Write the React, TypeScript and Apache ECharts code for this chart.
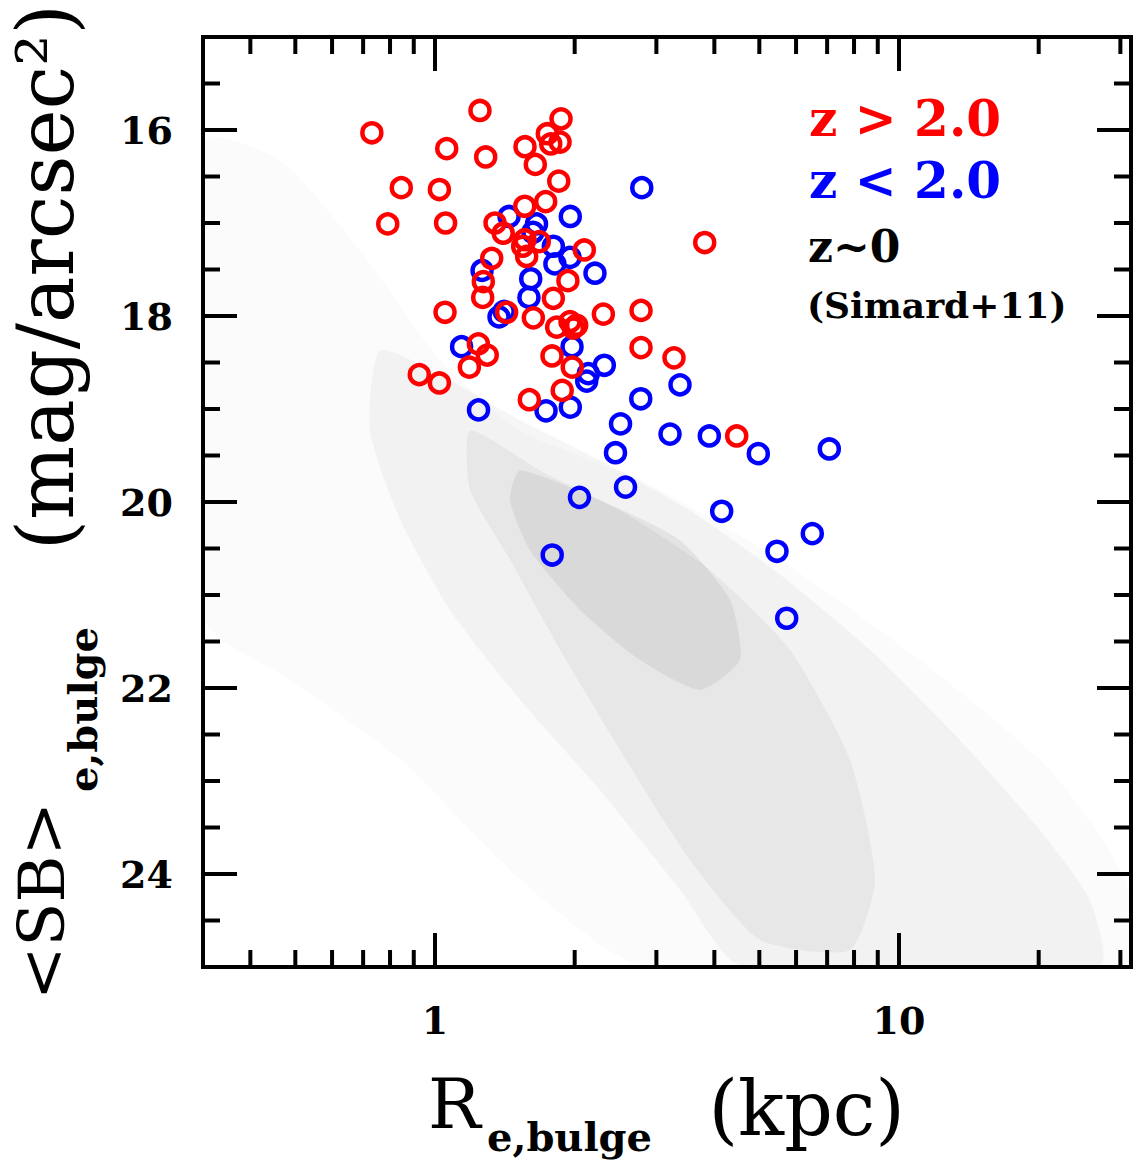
import React, { useEffect, useRef } from "react";
import * as echarts from "echarts";

// z > 2.0 galaxies: [R_e,bulge (kpc), <SB>_e,bulge (mag/arcsec^2)]
const highZ: number[][] = [
  [0.731, 16.03], [1.25, 15.79], [1.06, 16.2], [1.286, 16.29], [1.563, 16.18],
  [1.746, 16.04], [1.869, 15.88], [1.86, 16.13], [1.776, 16.15], [1.645, 16.37],
  [1.848, 16.55], [0.846, 16.62], [1.022, 16.64], [1.732, 16.77], [1.561, 16.82],
  [0.791, 17.01], [1.054, 17.0], [1.347, 17.0], [1.403, 17.11], [1.563, 17.18],
  [1.678, 17.2], [1.545, 17.25], [1.576, 17.36], [2.098, 17.29], [3.813, 17.21],
  [1.325, 17.38], [1.934, 17.62], [1.271, 17.63], [1.267, 17.8], [1.799, 17.81],
  [1.051, 17.96], [1.427, 17.96], [1.629, 18.02], [1.829, 18.12], [1.987, 18.13],
  [2.02, 18.1], [1.954, 18.06], [2.306, 17.98], [2.78, 17.94], [2.78, 18.34],
  [3.274, 18.45], [1.24, 18.3], [1.296, 18.42], [1.186, 18.55], [1.787, 18.43],
  [1.976, 18.55], [0.925, 18.63], [1.022, 18.72], [1.88, 18.8], [1.597, 18.9],
  [4.469, 19.29],
];

// z < 2.0 galaxies
const lowZ: number[][] = [
  [2.79, 16.62], [1.444, 16.93], [1.957, 16.93], [1.655, 17.01], [1.626, 17.1],
  [1.799, 17.25], [1.954, 17.37], [1.813, 17.44], [2.212, 17.54], [1.263, 17.51],
  [1.608, 17.6], [1.594, 17.8], [1.409, 17.95], [1.374, 18.01], [1.974, 18.33],
  [1.141, 18.33], [2.317, 18.53], [2.14, 18.62], [2.123, 18.7], [3.373, 18.74],
  [2.776, 18.89], [1.241, 19.01], [1.735, 19.02], [1.957, 18.98], [2.511, 19.16],
  [3.21, 19.27], [3.901, 19.29], [4.975, 19.48], [7.076, 19.43], [2.449, 19.47],
  [2.574, 19.84], [2.048, 19.95], [4.148, 20.1], [6.503, 20.34], [5.458, 20.53],
  [1.789, 20.57], [5.728, 21.25],
];

// z~0 (Simard+11) local sample, summarised as nested density outlines
const localHalo: number[][] = [
  [0.319, 16.11], [0.463, 16.32], [0.689, 17.29], [1.025, 18.47], [1.525, 19.23],
  [2.766, 19.76], [5.54, 20.62], [11.1, 21.7], [21.2, 22.88], [30.7, 24.06],
  [30.7, 24.98], [2.766, 24.98], [1.525, 24.06], [0.841, 22.77], [0.487, 21.91],
  [0.319, 21.27],
];
const localBand: number[][] = [
  [0.761, 18.37], [1.077, 18.69], [1.525, 19.12], [2.268, 19.55], [3.544, 20.09],
  [5.54, 20.78], [8.66, 21.59], [13.53, 22.56], [20.13, 23.53], [25.8, 24.28],
  [27.1, 24.98], [4.543, 24.98], [3.373, 24.17], [2.268, 23.1], [1.525, 22.13],
  [1.077, 21.16], [0.841, 20.19], [0.724, 19.23],
];
const localInner: number[][] = [
  [1.19, 19.23], [1.684, 19.66], [2.505, 20.09], [3.914, 20.73], [5.82, 21.59],
  [7.84, 22.77], [8.88, 24.06], [7.84, 24.82], [5.02, 24.71], [3.544, 23.85],
  [2.505, 22.67], [1.86, 21.59], [1.451, 20.62], [1.19, 19.87],
];
const localCore: number[][] = [
  [1.525, 19.66], [2.268, 19.98], [3.373, 20.41], [4.323, 21.05], [4.543, 21.7],
  [3.725, 22.02], [2.766, 21.7], [2.053, 21.16], [1.602, 20.52], [1.451, 19.98],
];

const xMajorTicks = [1, 10];
const xMinorTicks = [0.4, 0.5, 0.6, 0.7, 0.8, 0.9, 2, 3, 4, 5, 6, 7, 8, 9, 20, 30];
const yMajorTicks = [16, 18, 20, 22, 24];
const yMinorTicks = [15.5, 16.5, 17, 17.5, 18.5, 19, 19.5, 20.5, 21, 21.5, 22.5, 23, 23.5, 24.5];

const cloudLayers = [localHalo, localBand, localInner, localCore];
const cloudAlpha = [0.015, 0.035, 0.045, 0.06];

const SERIF = '"DejaVu Serif", serif';

export default function App() {
  const ref = useRef<HTMLDivElement>(null);
  useEffect(() => {
    if (!ref.current) return;
    const chart = echarts.init(ref.current, null, { renderer: "svg" });
    const tickColor = "#000";
    const option: any = {
      animation: false,
      backgroundColor: "#fff",
      grid: {
        left: 203, top: 37, width: 928, height: 930,
        show: true, borderColor: "#000", borderWidth: 4, backgroundColor: "transparent",
      },
      xAxis: {
        type: "log", logBase: 10, min: Math.pow(10, -0.5), max: Math.pow(10, 1.5),
        axisLine: { show: false }, axisTick: { show: false }, splitLine: { show: false },
        axisLabel: {
          showMinLabel: false, showMaxLabel: false, margin: 34,
          color: "#000", fontFamily: SERIF, fontWeight: "bold", fontSize: 38,
          formatter: (v: number) => {
            const l = Math.log10(v);
            const r = Math.round(l);
            return Math.abs(l - r) < 1e-6 && (r === 0 || r === 1) ? String(Math.round(v)) : "";
          },
        },
      },
      yAxis: {
        type: "value", inverse: true, min: 15, max: 25, interval: 1,
        axisLine: { show: false }, axisTick: { show: false }, splitLine: { show: false },
        axisLabel: {
          margin: 30, color: "#000", fontFamily: SERIF, fontWeight: "bold", fontSize: 38,
          formatter: (v: number) => (v % 2 === 0 ? String(v) : ""),
        },
      },
      series: [
        {
          type: "custom", silent: true, z: 1, clip: true,
          data: cloudLayers.map((pts, i) => [pts[0][0], pts[0][1], i]),
          renderItem: (params: any, api: any) => {
            const idx = api.value(2);
            const pts = cloudLayers[idx].map((p) => api.coord(p));
            return {
              type: "polygon",
              shape: { points: pts, smooth: 0.2 },
              style: { fill: `rgba(0,0,0,${cloudAlpha[idx]})`, stroke: null },
            };
          },
        },
        {
          type: "scatter", z: 3, symbol: "circle", symbolSize: 19, data: lowZ,
          itemStyle: { color: "rgba(0,0,0,0)", borderColor: "#0000ff", borderWidth: 4.5, opacity: 1 },
        },
        {
          type: "scatter", z: 4, symbol: "circle", symbolSize: 19, data: highZ,
          itemStyle: { color: "rgba(0,0,0,0)", borderColor: "#ff0000", borderWidth: 4.5, opacity: 1 },
        },
        {
          type: "custom", silent: true, z: 6, clip: false,
          data: [...xMajorTicks.map((v) => [v, 20, 1]), ...xMinorTicks.map((v) => [v, 20, 0])],
          renderItem: (params: any, api: any) => {
            const cs = params.coordSys;
            const px = api.coord([api.value(0), 20])[0];
            const len = api.value(2) ? 34 : 17;
            const b = cs.y + cs.height;
            return {
              type: "group",
              children: [
                { type: "line", shape: { x1: px, y1: b, x2: px, y2: b - len }, style: { stroke: tickColor, lineWidth: 4 } },
                { type: "line", shape: { x1: px, y1: cs.y, x2: px, y2: cs.y + len }, style: { stroke: tickColor, lineWidth: 4 } },
              ],
            };
          },
        },
        {
          type: "custom", silent: true, z: 6, clip: false,
          data: [...yMajorTicks.map((v) => [1, v, 1]), ...yMinorTicks.map((v) => [1, v, 0])],
          renderItem: (params: any, api: any) => {
            const cs = params.coordSys;
            const py = api.coord([1, api.value(1)])[1];
            const len = api.value(2) ? 34 : 17;
            const r = cs.x + cs.width;
            return {
              type: "group",
              children: [
                { type: "line", shape: { x1: cs.x, y1: py, x2: cs.x + len, y2: py }, style: { stroke: tickColor, lineWidth: 4 } },
                { type: "line", shape: { x1: r, y1: py, x2: r - len, y2: py }, style: { stroke: tickColor, lineWidth: 4 } },
              ],
            };
          },
        },
      ],
      graphic: [
        { type: "text", x: 809, y: 118, style: { text: "z > 2.0", fill: "#ff0000", font: `bold 50px ${SERIF}`, textAlign: "left", textVerticalAlign: "middle" } },
        { type: "text", x: 809, y: 180, style: { text: "z < 2.0", fill: "#0000ff", font: `bold 50px ${SERIF}`, textAlign: "left", textVerticalAlign: "middle" } },
        { type: "text", x: 808, y: 246, style: { text: "z~0", fill: "#000", font: `bold 44px ${SERIF}`, textAlign: "left", textVerticalAlign: "middle" } },
        { type: "text", x: 807, y: 305, style: { text: "(Simard+11)", fill: "#000", font: `bold 36px ${SERIF}`, textAlign: "left", textVerticalAlign: "middle" } },
        // x-axis title
        { type: "text", x: 428, y: 1104, style: { text: "R", fill: "#000", font: `70px ${SERIF}`, textAlign: "left", textVerticalAlign: "middle" } },
        { type: "text", x: 487, y: 1136, style: { text: "e,bulge", fill: "#000", font: `bold 40px ${SERIF}`, textAlign: "left", textVerticalAlign: "middle" } },
        { type: "text", x: 905, y: 1108, style: { text: "(kpc)", fill: "#000", font: `76px ${SERIF}`, textAlign: "right", textVerticalAlign: "middle" } },
        // y-axis title
        {
          type: "group", x: 42, y: 1000, rotation: Math.PI / 2,
          children: [
            { type: "text", x: 0, y: 0, style: { text: "<SB>", fill: "#000", font: `64px ${SERIF}`, textAlign: "left", textVerticalAlign: "middle" } },
            { type: "text", x: 208, y: 40, style: { text: "e,bulge", fill: "#000", font: `bold 40px ${SERIF}`, textAlign: "left", textVerticalAlign: "middle" } },
            { type: "text", x: 996, y: 4, style: { text: "(mag/arcsec²)", fill: "#000", font: `78px ${SERIF}`, textAlign: "right", textVerticalAlign: "middle" } },
          ],
        },
      ],
    };
    chart.setOption(option);
    return () => chart.dispose();
  }, []);
  return <div ref={ref} style={{ position: "fixed", left: 0, top: 0, width: 1136, height: 1171 }} />;
}
